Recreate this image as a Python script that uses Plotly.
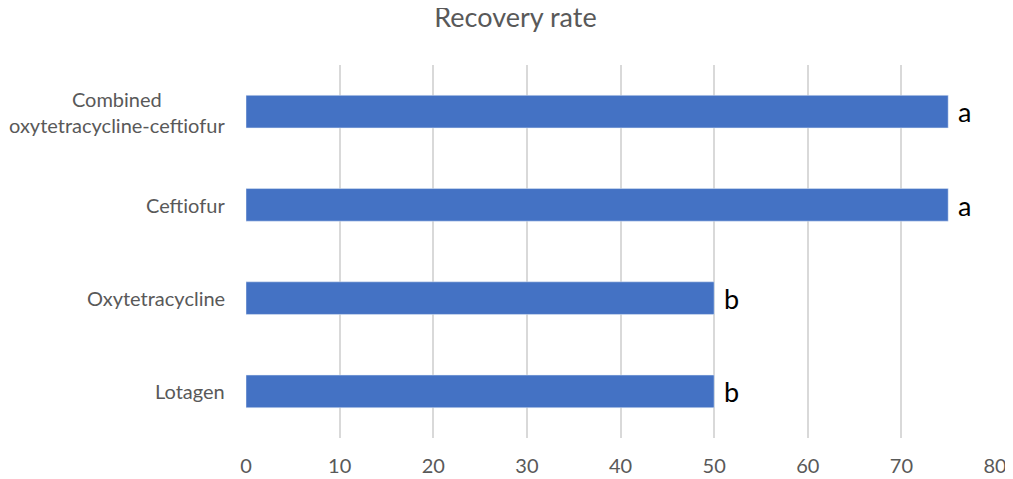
import plotly.graph_objects as go

categories = ['Lotagen', 'Oxytetracycline', 'Ceftiofur', 'Combined<br>oxytetracycline-ceftiofur']
recovery = [50, 50, 75, 75]
letters = ['b', 'b', 'a', 'a']
x_ticks = [0, 10, 20, 30, 40, 50, 60, 70, 80]

fig = go.Figure(go.Bar(
    x=recovery,
    y=categories,
    orientation='h',
    width=0.35,
    marker_color='#4472C4',
    text=[' ' + t for t in letters],
    textposition='outside',
    textfont=dict(size=29, color='black', family='Lato, sans-serif'),
    cliponaxis=False
))

# category labels as annotations so the two-line label is centred like the original
for cat in categories:
    fig.add_annotation(
        x=0, xref='paper', xanchor='right', xshift=-19,
        y=cat, yref='y', yanchor='middle',
        text=cat, showarrow=False, align='center',
        font=dict(size=20, color='#595959')
    )

# page body adds an 8px margin, so the figure is sized to fit the window
fig.update_layout(
    width=1005,
    height=471,
    margin=dict(l=238, r=18, t=57, b=41),
    paper_bgcolor='white',
    plot_bgcolor='white',
    font=dict(family='Lato, Open Sans, sans-serif', color='#595959', size=20),
    title=dict(text='Recovery rate', x=0.505, xanchor='center', y=1, yanchor='top',
               pad=dict(t=0), font=dict(size=27, color='#595959')),
    showlegend=False
)

fig.update_xaxes(
    range=[0, 80],
    tickvals=x_ticks,
    automargin=False,
    showgrid=True,
    gridcolor='#d9d9d9',
    gridwidth=2,
    zeroline=False,
    showline=False,
    ticks='outside',
    ticklen=10,
    tickcolor='rgba(0,0,0,0)',
    tickfont=dict(size=20, color='#595959')
)

fig.update_yaxes(
    automargin=False,
    showgrid=False,
    zeroline=False,
    showline=False,
    showticklabels=False
)

fig.write_html('out.html')
